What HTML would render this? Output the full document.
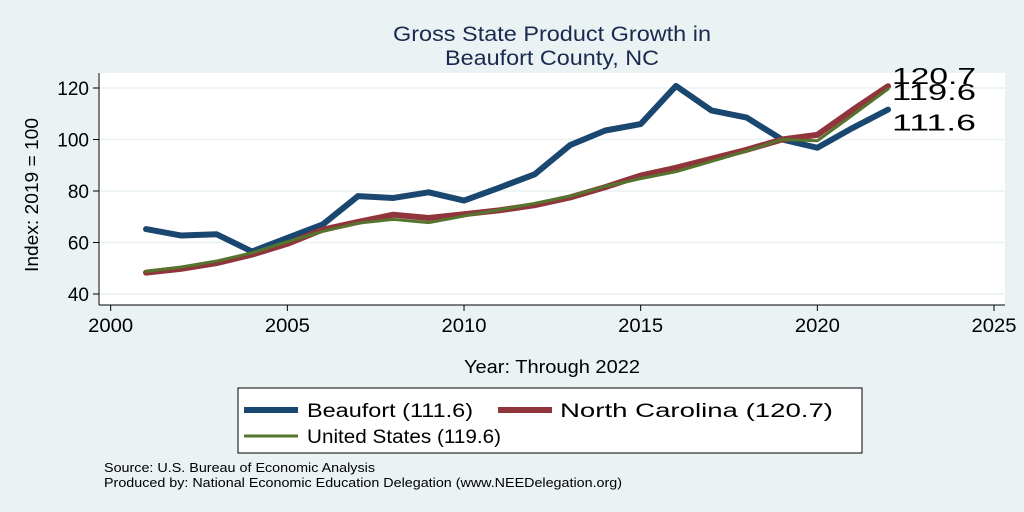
<!DOCTYPE html>
<html><head><meta charset="utf-8"><style>
body{margin:0;background:#eaf2f3;}
svg{display:block;font-family:"Liberation Sans",sans-serif;}
</style></head><body>
<svg id="chart" width="1024" height="512">
<rect x="0" y="0" width="1024" height="512" fill="#eaf2f3"/>
<rect x="98" y="73" width="907" height="232" fill="#ffffff"/>
<text x="552" y="41" text-anchor="middle" font-size="21" textLength="318" lengthAdjust="spacingAndGlyphs" fill="#1a2a4f">Gross State Product Growth in</text>
<text x="552" y="65" text-anchor="middle" font-size="21" textLength="214" lengthAdjust="spacingAndGlyphs" fill="#1a2a4f">Beaufort County, NC</text>
<g id="grid"></g><g id="axes"></g><g id="series"></g>
<text x="552" y="373" text-anchor="middle" font-size="18" textLength="176" lengthAdjust="spacingAndGlyphs" fill="#000">Year: Through 2022</text>
<text transform="translate(38,195) rotate(-90)" text-anchor="middle" font-size="18" textLength="154" lengthAdjust="spacingAndGlyphs" fill="#000">Index: 2019 = 100</text>
<rect x="238" y="388" width="624" height="65" fill="#fff" stroke="#000" stroke-width="1"/>
<line x1="244" y1="410" x2="298" y2="410" stroke="#1a476f" stroke-width="6"/>
<text x="307" y="417" font-size="19" textLength="166" lengthAdjust="spacingAndGlyphs">Beaufort  (111.6)</text>
<line x1="498" y1="410" x2="552" y2="410" stroke="#90353b" stroke-width="6"/>
<text x="560" y="417" font-size="19" textLength="273" lengthAdjust="spacingAndGlyphs">North Carolina (120.7)</text>
<line x1="244" y1="436" x2="298" y2="436" stroke="#55752f" stroke-width="3"/>
<text x="307" y="443" font-size="19" textLength="194" lengthAdjust="spacingAndGlyphs">United States (119.6)</text>
<text x="104" y="472" font-size="13" textLength="271" lengthAdjust="spacingAndGlyphs">Source: U.S. Bureau of Economic Analysis</text>
<text x="104" y="487" font-size="13" textLength="518" lengthAdjust="spacingAndGlyphs">Produced by: National Economic Education Delegation (www.NEEDelegation.org)</text>
</svg>
<script>
const years=[2001,2002,2003,2004,2005,2006,2007,2008,2009,2010,2011,2012,2013,2014,2015,2016,2017,2018,2019,2020,2021,2022];
const beaufort=[65.2,62.7,63.2,56.5,61.8,67,78,77.3,79.5,76.3,81.3,86.5,97.8,103.5,106,120.8,111.3,108.5,100,96.8,104.5,111.6];
const northCarolina=[48.3,49.8,52,55.3,59.5,65,68,70.8,69.5,71,72.5,74.5,77.5,81.5,86,89,92.5,96,100,101.8,111.5,120.7];
const unitedStates=[48.8,50.5,52.8,56,60.3,64.3,67.5,69,67.7,70.3,72.7,75.2,78,81.8,84.8,87.5,91.5,95.5,100,99.5,109.5,119.6];
const xTicks=[2000,2005,2010,2015,2020,2025];
const yTicks=[40,60,80,100,120];
const NS="http://www.w3.org/2000/svg";
const xs=v=>110.7+(v-2000)*(994-110.7)/25;
const ys=v=>294-(v-40)*(294-88)/80;
function mk(tag,attrs,parent){const e=document.createElementNS(NS,tag);for(const k in attrs)e.setAttribute(k,attrs[k]);parent.appendChild(e);return e;}
const grid=document.getElementById('grid'),axes=document.getElementById('axes'),ser=document.getElementById('series');
yTicks.forEach(t=>{
 const g=mk('line',{x1:99,x2:1005,y1:ys(t),y2:ys(t),stroke:'#eaf2f3','stroke-width':1.5},grid);
 
 
 const tk=mk('line',{x1:93,x2:99,y1:ys(t),y2:ys(t),stroke:'#000'},axes);
 
 
 const tx=mk('text',{x:89,y:ys(t)+7,'text-anchor':'end','font-size':19},axes);tx.textContent=t;
 
 
});
xTicks.forEach(t=>{
 const tk=mk('line',{x1:xs(t),x2:xs(t),y1:305,y2:311,stroke:'#000'},axes);
 
 
 const tx=mk('text',{x:xs(t),y:332,'text-anchor':'middle','font-size':19,textLength:45,lengthAdjust:'spacingAndGlyphs'},axes);tx.textContent=t;
 
 
});
const ya=mk('line',{x1:99,x2:99,y1:73,y2:305,stroke:'#000'},axes);


const xa=mk('line',{x1:99,x2:1005,y1:305,y2:305,stroke:'#000'},axes);


function line(data,color,w,name){
 const p=mk('polyline',{points:data.map((v,i)=>xs(years[i])+','+ys(v)).join(' '),fill:'none',stroke:color,'stroke-width':w,'stroke-linejoin':'round','stroke-linecap':'round'},ser);
 
 
}
line(beaufort,'#1a476f',6,'line-beaufort');
line(northCarolina,'#90353b',6,'line-north-carolina');
line(unitedStates,'#55752f',3,'line-united-states');
const lx=xs(years[years.length-1])+4;
[[northCarolina,-2,'end-label-nc'],[unitedStates,11,'end-label-us'],[beaufort,21,'end-label-beaufort']].forEach(([d,dy,n])=>{
 const v=d[d.length-1];
 const t=mk('text',{x:lx,y:ys(v)+dy,'font-size':23,textLength:84,lengthAdjust:'spacingAndGlyphs'},ser);t.textContent=v.toFixed(1);
 
 
});
</script>
</body></html>
